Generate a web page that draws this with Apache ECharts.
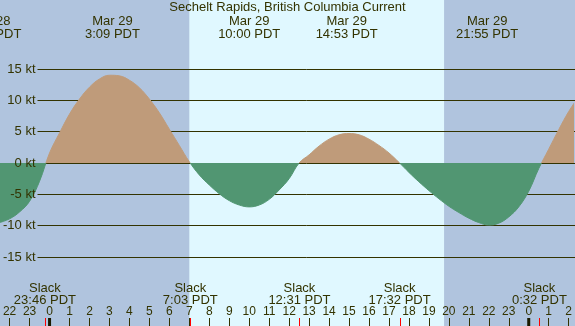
<!DOCTYPE html>
<html>
<head>
<meta charset="utf-8">
<title>Sechelt Rapids, British Columbia Current</title>
<script src="https://cdn.jsdelivr.net/npm/echarts@6/dist/echarts.min.js"></script>
<style>
html,body{margin:0;padding:0;background:#b0c4de;}
#chart{width:575px;height:326px;}
</style>
</head>
<body>
<div id="chart"></div>
<script>
// hours from Mar 29 00:00 PDT
var hours = [-2.5,-2,-1.5,-1,-0.5,0,0.5,1,1.5,2,2.5,3,3.5,4,4.5,5,5.5,6,6.5,7,7.5,8,8.5,9,9.5,10,10.5,11,11.5,12,12.5,13,13.5,14,14.5,15,15.5,16,16.5,17,17.5,18,18.5,19,19.5,20,20.5,21,21.5,22,22.5,23,23.5,24,24.5,25,25.5,26,26.5];
// current in knots
var speed = [-9.5,-8.9,-7.8,-6.1,-2.9,1.6,4.8,7.8,10.2,12.1,13.4,14.0,13.9,13.2,12.0,10.2,8.0,5.4,2.8,0.2,-1.9,-3.5,-4.9,-6.0,-6.7,-7.0,-6.7,-5.8,-4.3,-2.5,0.0,1.3,2.7,3.8,4.5,4.7,4.5,3.8,2.8,1.6,0.1,-1.5,-3.0,-4.4,-5.7,-6.9,-7.9,-8.8,-9.5,-9.9,-9.6,-8.6,-7.0,-4.5,-0.9,2.2,5.3,8.2,10.6];

var hourTicks = [-2,-1,0,1,2,3,4,5,6,7,8,9,10,11,12,13,14,15,16,17,18,19,20,21,22,23,24,25,26];
var midnights = [0,24];
var daylight = [7.0,19.76];

var slackTimes = [-0.233,7.05,12.517,17.533,24.533];
var slackLabels = ['23:46 PDT','7:03 PDT','12:31 PDT','17:32 PDT','0:32 PDT'];
var peakTimes = [-2.97,3.15,10.0,14.883,21.917];
var peakLabels = ['Mar 28\n21:02 PDT','Mar 29\n3:09 PDT','Mar 29\n10:00 PDT','Mar 29\n14:53 PDT','Mar 29\n21:55 PDT'];

var textColor = '#333300';
var fontFamily = '"Liberation Sans", Arial, sans-serif';
var font = '13px ' + fontFamily;

var chart = echarts.init(document.getElementById('chart'), null, {renderer:'canvas'});

var curve = [];
for (var i = 0; i < hours.length; i++) {
	curve.push([hours[i], speed[i]]);
}

function timeData(arr) {
	var out = [];
	arr.forEach(function(t) { out.push([t, 0]); });
	return out;
}

// x position of a time on the main grid
function xOf(api, t) {
	return api.coord([t, 0])[0];
}

var option = {
	animation: false,
	backgroundColor: '#b0c4de',
	title: {
		text: 'Sechelt Rapids, British Columbia Current',
		left: 'center',
		top: 1,
		padding: 0,
		textStyle: {fontSize:13, fontWeight:'normal', color:textColor, fontFamily:fontFamily}
	},
	grid: [
		{left:0, right:0, top:0, bottom:0},
		{left:37, right:0, top:69, height:188}
	],
	xAxis: [{
		type:'value', gridIndex:0, min:-2.48, max:26.17, z:3,
		axisLine:{show:false, onZero:false},
		splitLine:{show:false},
		axisTick:{show:true, inside:true, length:8, customValues:hourTicks, lineStyle:{color:textColor, width:1}},
		axisLabel:{show:true, inside:true, margin:8, customValues:hourTicks, color:textColor, fontSize:12,
			fontFamily:fontFamily,
			formatter:function(v) { return String(((v % 24) + 24) % 24); }}
	},{
		type:'value', gridIndex:1, min:0, max:1, show:false
	}],
	yAxis: [{
		type:'value', gridIndex:0, min:-26, max:26, show:false
	},{
		// grid lines, under the current
		type:'value', gridIndex:1, min:-15, max:15, interval:5, z:1,
		axisLine:{show:false}, axisTick:{show:false}, axisLabel:{show:false},
		splitLine:{show:true, lineStyle:{color:textColor, width:1}}
	},{
		// knot labels, over the current
		type:'value', gridIndex:1, min:-15, max:15, interval:5, z:6, position:'left',
		axisLine:{show:false}, axisTick:{show:false}, splitLine:{show:false},
		axisLabel:{formatter:'{value} kt', color:textColor, fontSize:13, margin:2, fontFamily:fontFamily}
	}],
	visualMap: {
		type:'piecewise', show:false, seriesIndex:1, dimension:1,
		pieces:[{gt:-30, lte:0, color:'#519672'},{gt:0, lte:30, color:'#bf9b7a'}]
	},
	series: [{
		// daylight band
		type:'custom', coordinateSystem:'cartesian2d', xAxisIndex:0, yAxisIndex:0, z:0, silent:true,
		data:[[daylight[0], 0, daylight[1]]],
		renderItem:function(params, api) {
			var x1 = xOf(api, api.value(0));
			var x2 = xOf(api, api.value(2));
			return {type:'rect', shape:{x:x1, y:0, width:x2-x1, height:326}, style:{fill:'#e0f8ff'}};
		}
	},{
		type:'line', xAxisIndex:0, yAxisIndex:0, z:2, data:curve, smooth:0.4, showSymbol:false, silent:true,
		lineStyle:{width:1}, areaStyle:{opacity:1}
	},{
		// thick midnight ticks
		type:'custom', coordinateSystem:'cartesian2d', xAxisIndex:0, yAxisIndex:0, z:4, silent:true,
		data:timeData(midnights),
		renderItem:function(params, api) {
			var x = xOf(api, api.value(0));
			return {type:'rect', shape:{x:x-1.5, y:318, width:3, height:8}, style:{fill:'#1a1a00'}};
		}
	},{
		// slack ticks
		type:'custom', coordinateSystem:'cartesian2d', xAxisIndex:0, yAxisIndex:0, z:4, silent:true,
		data:timeData(slackTimes),
		renderItem:function(params, api) {
			var x = Math.round(xOf(api, api.value(0)));
			return {type:'rect', shape:{x:x, y:318, width:1, height:8}, style:{fill:'#ff0000'}};
		}
	},{
		type:'custom', coordinateSystem:'cartesian2d', xAxisIndex:0, yAxisIndex:0, z:5, silent:true,
		data:timeData(peakTimes),
		renderItem:function(params, api) {
			var x = xOf(api, api.value(0));
			return {type:'text', x:x, y:27.5, style:{text:peakLabels[params.dataIndex], align:'center', verticalAlign:'middle', font:font, lineHeight:13, fill:textColor}};
		}
	},{
		type:'custom', coordinateSystem:'cartesian2d', xAxisIndex:0, yAxisIndex:0, z:5, silent:true,
		data:timeData(slackTimes),
		renderItem:function(params, api) {
			var x = xOf(api, api.value(0));
			return {type:'text', x:x, y:294.5, style:{text:'Slack\n' + slackLabels[params.dataIndex], align:'center', verticalAlign:'middle', font:font, lineHeight:12, fill:textColor}};
		}
	}]
};

chart.setOption(option);
</script>
</body>
</html>
